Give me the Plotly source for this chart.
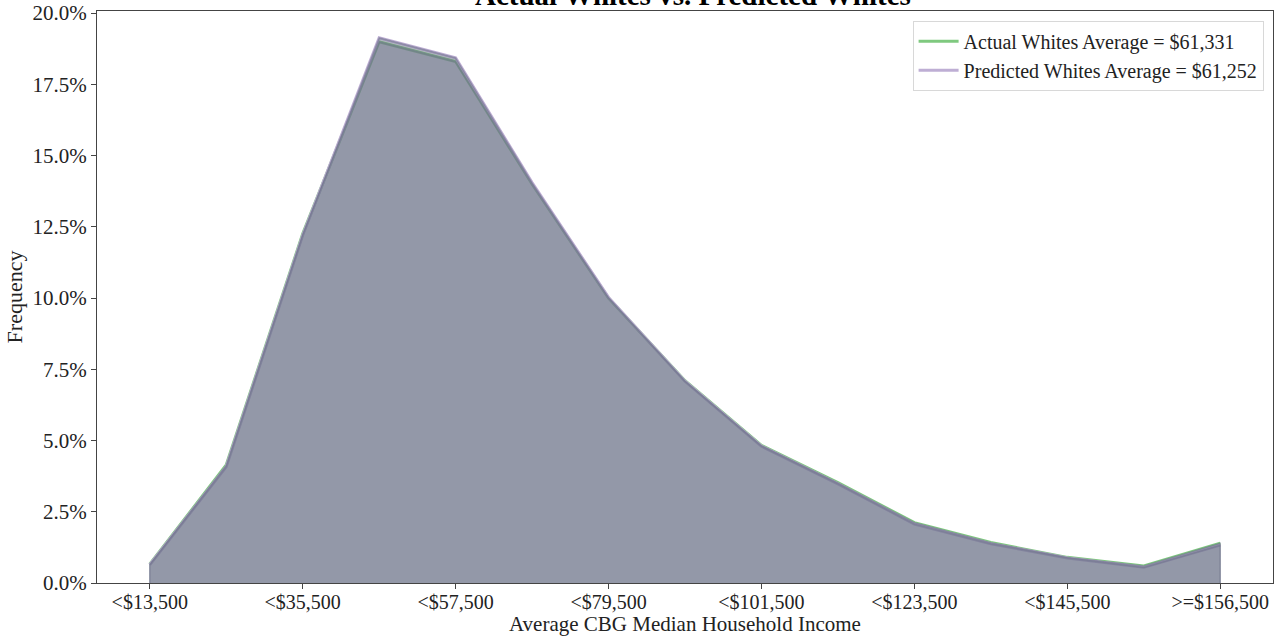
import plotly.graph_objects as go

# Income bins (15 bins, every other one labelled)
bin_index = list(range(15))
tick_positions = [0, 2, 4, 6, 8, 10, 12, 14]
tick_labels = ["<$13,500", "<$35,500", "<$57,500", "<$79,500",
               "<$101,500", "<$123,500", "<$145,500", ">=$156,500"]

# Share of block groups per income bin (%)
actual_whites = [0.66, 4.14, 12.25, 18.99, 18.30, 14.00, 10.00, 7.10,
                 4.83, 3.52, 2.12, 1.42, 0.90, 0.60, 1.40]
predicted_whites = [0.64, 4.08, 12.20, 19.13, 18.43, 14.05, 10.02, 7.08,
                    4.80, 3.48, 2.07, 1.38, 0.88, 0.55, 1.33]

y_ticks = [0, 2.5, 5, 7.5, 10, 12.5, 15, 17.5, 20]
y_tick_labels = ["0.0%", "2.5%", "5.0%", "7.5%", "10.0%", "12.5%",
                 "15.0%", "17.5%", "20.0%"]

actual_label = "Actual Whites Average = $61,331"
predicted_label = "Predicted Whites Average = $61,252"
title_text = "Actual Whites vs. Predicted Whites"
x_title = "Average CBG Median Household Income"
y_title = "Frequency"

GREEN = "#7fc97f"
PURPLE = "#beaed4"
FILL = "rgba(111,118,139,0.5)"
FONT = "Liberation Serif"

fig = go.Figure()

# Outline lines first; the translucent fills go on top of them
fig.add_trace(go.Scatter(x=bin_index, y=actual_whites, mode="lines",
                         line=dict(color=GREEN, width=3), name=actual_label))
fig.add_trace(go.Scatter(x=bin_index, y=predicted_whites, mode="lines",
                         line=dict(color=PURPLE, width=3), name=predicted_label))

for series in (actual_whites, predicted_whites):
    px = [bin_index[0]] + bin_index + [bin_index[-1]]
    py = [0] + series + [0]
    fig.add_trace(go.Scatter(x=px, y=py, mode="lines", fill="toself",
                             fillcolor=FILL,
                             line=dict(color="rgba(111,118,139,0.5)", width=1.2),
                             showlegend=False, hoverinfo="skip"))

fig.add_annotation(text="<b>" + title_text + "</b>", xref="paper", yref="paper",
                   x=0.5, y=1.0, xshift=8, yshift=-2, xanchor="center",
                   yanchor="bottom", showarrow=False,
                   font=dict(family=FONT, size=29, color="#000"))

fig.add_annotation(text=x_title, xref="paper", yref="paper",
                   x=0.5, y=0.0, yshift=-41, xanchor="center", yanchor="middle",
                   showarrow=False, font=dict(family=FONT, size=21, color="#222"))

axis_common = dict(showline=True, linecolor="#444", linewidth=1, mirror=True,
                   ticks="outside", ticklen=5, tickcolor="#444", tickwidth=1,
                   showgrid=False, zeroline=False, automargin=False)

fig.update_layout(
    width=1288, height=638,
    margin=dict(l=97, r=15, t=11, b=55),
    paper_bgcolor="white", plot_bgcolor="white",
    font=dict(family=FONT, color="#222"),
    xaxis=dict(range=[-0.69, 14.69], tickmode="array", tickvals=tick_positions,
               ticktext=tick_labels, ticklabelstandoff=-4,
               tickfont=dict(family=FONT, size=20, color="#222"),
               **axis_common),
    yaxis=dict(range=[0, 20.07], tickmode="array", tickvals=y_ticks,
               ticktext=y_tick_labels,
               tickfont=dict(family=FONT, size=21, color="#222"),
               title=dict(text=y_title,
                          font=dict(family=FONT, size=22, color="#222"),
                          standoff=3),
               **axis_common),
    legend=dict(x=0.992, y=0.983, xanchor="right", yanchor="top",
                bgcolor="white", bordercolor="#d8d8d8", borderwidth=1,
                font=dict(family=FONT, size=20, color="#222"),
                itemwidth=40, tracegroupgap=0),
    showlegend=True,
)

fig.write_html("out.html")
